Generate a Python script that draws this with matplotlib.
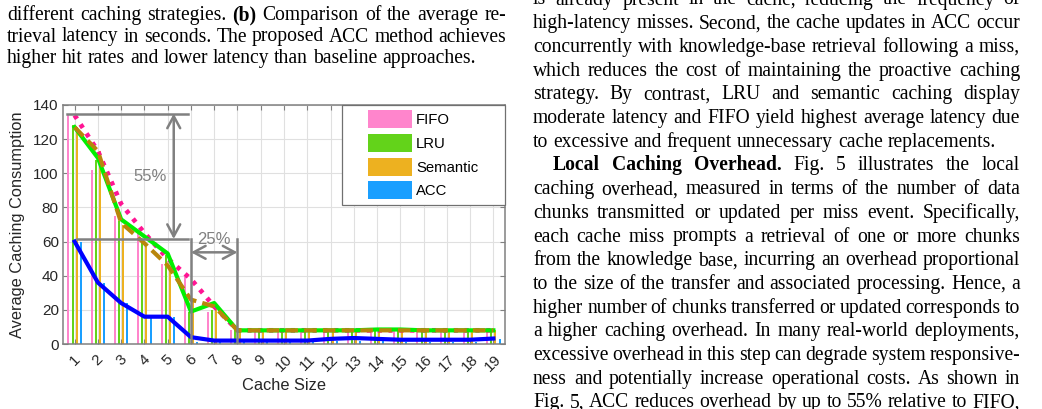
import numpy as np
import matplotlib
matplotlib.use("Agg")
import matplotlib.pyplot as plt
from matplotlib.patches import Rectangle
from matplotlib.container import BarContainer
from matplotlib.legend_handler import HandlerPatch, update_from_first_child

# ---- chart data ----
cache_size = list(range(1, 20))
tick_labels = [str(c) for c in cache_size]
strategies = ["FIFO", "LRU", "Semantic", "ACC"]

fifo_bars = [135, 102, 75, 65, 47, 39, 19, 8, 8, 7, 8, 8, 7, 8, 8, 7, 8, 8, 8]
lru_bars = [128, 108, 72, 60, 52, 19, 20, 8, 8, 8, 8, 8, 8, 8, 8, 8, 8, 8, 8]
sem_bars = [127, 113, 70, 57, 44, 26, 21, 8, 8, 8, 8, 8, 8, 8, 8, 8, 8, 8, 8]
acc_bars = [60, 36, 24, 16, 16, 1, 1, 1, 1, 1, 1, 1.5, 1.5, 1.5, 1, 1, 1, 1, 2.7]

fifo_line = [134, 113, 82, 65, 50, 38, 22, 8, 8, 8, 8, 8, 8, 8, 8, 8, 8, 8, 8]
lru_line = [127, 109, 73, 63, 53, 19, 24, 8, 8, 8, 8, 8, 8, 8.5, 8.5, 8, 8, 8, 8]
sem_line = [127, 113, 71, 59, 46, 26, 22, 8, 8, 8, 8, 8, 8, 8, 8, 8, 8, 8, 8]
acc_line = [60, 36, 24, 16, 16, 4, 2, 2, 2, 2, 2, 3, 3.5, 3, 2.5, 2.5, 2.5, 2.5, 3.2]

# ---- page text around the chart ----
caption_lines = [
    "different caching strategies. (b) Comparison of the average re-",
    "trieval latency in seconds. The proposed ACC method achieves",
    "higher hit rates and lower latency than baseline approaches.",
]
body_lines = [
    "is already present in the cache, reducing the frequency of",
    "high-latency misses. Second, the cache updates in ACC occur",
    "concurrently with knowledge-base retrieval following a miss,",
    "which reduces the cost of maintaining the proactive caching",
    "strategy. By contrast, LRU and semantic caching display",
    "moderate latency and FIFO yield highest average latency due",
    "to excessive and frequent unnecessary cache replacements.",
    "Local Caching Overhead. Fig. 5 illustrates the local",
    "caching overhead, measured in terms of the number of data",
    "chunks transmitted or updated per miss event. Specifically,",
    "each cache miss prompts a retrieval of one or more chunks",
    "from the knowledge base, incurring an overhead proportional",
    "to the size of the transfer and associated processing. Hence, a",
    "higher number of chunks transferred or updated corresponds to",
    "a higher caching overhead. In many real-world deployments,",
    "excessive overhead in this step can degrade system responsive-",
    "ness and potentially increase operational costs. As shown in",
    "Fig. 5, ACC reduces overhead by up to 55% relative to FIFO,",
]

W, H = 1042, 409
PX = 100 / 72
fig = plt.figure(figsize=(W / 100, H / 100), dpi=100)
renderer = fig.canvas.get_renderer()


def text_line(line, x0, x1, yb, size, justify, bold=()):
    words = line.split(" ")
    objs = []
    for i, w in enumerate(words):
        objs.append(fig.text(0, 0, w, fontsize=size, family="Liberation Serif",
                             fontweight="bold" if i in bold else "normal",
                             ha="left", va="baseline", color="black"))
    widths = [o.get_window_extent(renderer).width for o in objs]
    if justify and len(words) > 1:
        gap = (x1 - x0 - sum(widths)) / (len(words) - 1)
    else:
        gap = 0.25 * size * PX
    x = x0
    for o, w in zip(objs, widths):
        o.set_position((x / W, 1 - yb / H))
        x += w + gap


FS = 14.1
for i, line in enumerate(caption_lines):
    text_line(line, 7, 506, 14.5 + 21.5 * i + 5.5, FS, i < 2,
              bold=(3,) if i == 0 else ())
for i, line in enumerate(body_lines):
    x0 = 553 if i == 7 else 533
    text_line(line, x0, 1020, -1 + 23.7 * i + 5.5, FS, i != 6,
              bold=(0, 1, 2) if i == 7 else ())

# ---- chart ----
plt.rcParams["font.family"] = ["Liberation Sans", "DejaVu Sans"]
ax = fig.add_axes([63 / W, 1 - 344 / H, 442 / W, 239 / H])
x = np.array(cache_size)

bar_series = [fifo_bars, lru_bars, sem_bars, acc_bars]
bar_colors = ["#ff85cc", "#63d31a", "#edb120", "#1a9fff"]
offsets = [-0.265, -0.088, 0.088, 0.265]
bars = []
for vals, off, col, lab in zip(bar_series, offsets, bar_colors, strategies):
    bars.append(ax.bar(x + off, vals, width=0.085, color=col, label=lab,
                       linewidth=0, zorder=2))

ax.plot(x, fifo_line, color="#ff1493", lw=3.4, ls=(0, (0.9, 1.4)), zorder=3)
ax.plot(x, lru_line, color="#00f000", lw=3, zorder=3)
ax.plot(x, sem_line, color="#b8860b", lw=3, ls=(0, (3, 1.5)), zorder=3)
ax.plot(x, acc_line, color="#0000ff", lw=3, zorder=4)

gc = "#808080"
arrow = dict(arrowstyle="<->,head_length=0.54,head_width=0.29", color=gc,
             lw=1.8, mutation_scale=16, shrinkA=0, shrinkB=0)
ax.plot([0.69, 5.86], [135, 135], color=gc, lw=1.8, zorder=5)
ax.plot([1.09, 5.86], [61.5, 61.5], color=gc, lw=1.8, zorder=5)
ax.annotate("", xy=(5.26, 61.5), xytext=(5.26, 135), arrowprops=arrow, zorder=5)
ax.text(4.23, 98.4, "55%", color=gc, fontsize=12, ha="center", va="center", zorder=5)
ax.plot([6, 6], [0, 61.3], color=gc, lw=1.8, zorder=5)
ax.plot([8, 8], [0, 61.3], color=gc, lw=1.8, zorder=5)
ax.annotate("", xy=(6, 53.7), xytext=(8, 53.7), arrowprops=arrow, zorder=5)
ax.text(7, 61, "25%", color=gc, fontsize=12, ha="center", va="center", zorder=5)

ax.set_xlim(0.5, 19.5)
ax.set_ylim(0, 140)
ax.set_yticks(range(0, 141, 20))
ax.set_xticks(x)
ax.set_xticklabels(tick_labels, rotation=45, ha="center", va="top")
ax.grid(True, color="#e0e0e0", lw=0.8, zorder=0)
ax.set_axisbelow(True)
for s in ax.spines.values():
    s.set_color(gc)
    s.set_linewidth(1.1)
ax.tick_params(direction="in", length=3.6, width=0.8, color=gc, top=True,
               right=True, labelsize=11, labelcolor="#262626")
ax.tick_params(axis="x", pad=6)
ax.tick_params(axis="y", pad=3)

ax.set_xlabel("Cache Size", fontsize=11.8, color="#262626")
ax.xaxis.set_label_coords(0.5, -(385 - 344) / 239)
ax.xaxis.label.set_va("center")
ax.set_ylabel("Average Caching Consumption", fontsize=11.8, color="#262626")
ax.yaxis.set_label_coords((18 - 63) / 442, 0.5)
ax.yaxis.label.set_va("center")


def legend_box(legend, orig_handle, xdescent, ydescent, width, height, fontsize):
    pw, ph = 31.7, 13.0
    return Rectangle((-xdescent + width - pw, -ydescent + (height - ph) / 2), pw, ph)


leg = ax.legend(handles=bars, labels=strategies, loc="upper left",
                bbox_to_anchor=((341.7 - 63) / 442, 0, (505 - 341.7) / 442, 1.0),
                mode="expand", borderaxespad=0, fontsize=10.7, borderpad=0.45,
                handlelength=4.28, handleheight=1.21, handletextpad=0.27,
                labelspacing=0.54, fancybox=False, framealpha=1,
                edgecolor="#707070",
                handler_map={BarContainer: HandlerPatch(patch_func=legend_box,
                                                        update_func=update_from_first_child)})
leg.get_frame().set_linewidth(0.9)
leg.set_zorder(10)

fig.savefig("out.png", dpi=100)
